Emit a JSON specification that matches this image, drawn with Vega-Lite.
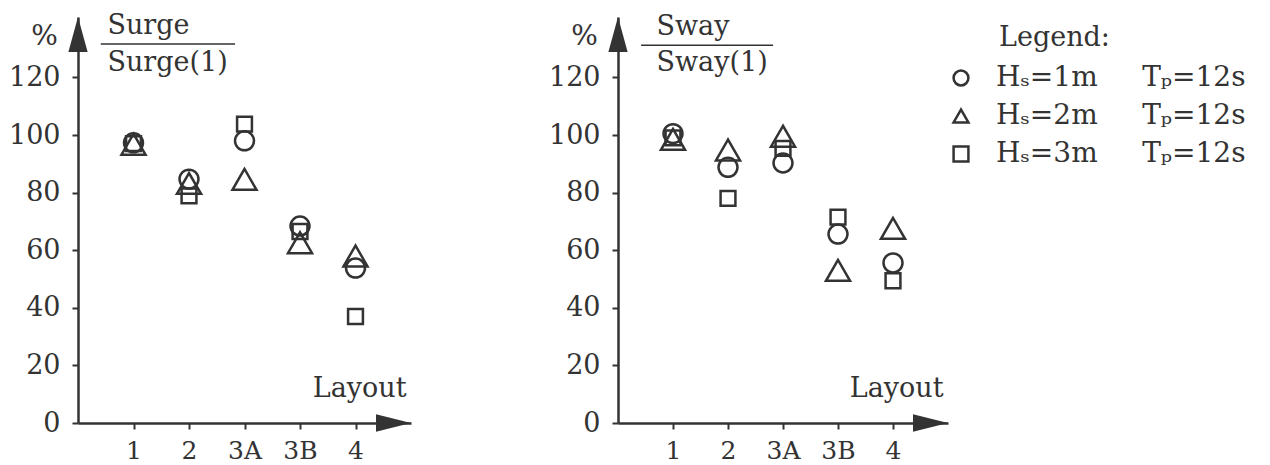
{
  "$schema": "https://vega.github.io/schema/vega-lite/v6.json",
  "padding": {"left": 8, "top": 11, "right": 0, "bottom": 0},
  "spacing": 137,
  "resolve": {"scale": {"shape": "independent"}, "legend": {"shape": "independent"}},
  "config": {
    "view": {"stroke": null},
    "font": "DejaVu Serif",
    "axis": {"domainColor": "#333", "domainWidth": 2.5, "tickColor": "#333", "tickWidth": 2, "tickSize": 6, "labelFont": "DejaVu Serif", "labelFontSize": 24, "labelColor": "#333", "grid": false, "titleFont": "DejaVu Serif", "titleFontWeight": "normal", "titleColor": "#333"},
    "text": {"font": "DejaVu Serif", "fontSize": 27, "color": "#333"}
  },
  "datasets": {
    "pts": [
      {"panel": "Surge", "pos": 1, "series": "H\u209b=1m\u00a0\u00a0\u00a0\u00a0\u00a0T\u209a=12s", "value": 97.3},
      {"panel": "Surge", "pos": 1, "series": "H\u209b=2m\u00a0\u00a0\u00a0\u00a0\u00a0T\u209a=12s", "value": 96.8},
      {"panel": "Surge", "pos": 1, "series": "H\u209b=3m\u00a0\u00a0\u00a0\u00a0\u00a0T\u209a=12s", "value": 97},
      {"panel": "Surge", "pos": 2, "series": "H\u209b=1m\u00a0\u00a0\u00a0\u00a0\u00a0T\u209a=12s", "value": 84.7},
      {"panel": "Surge", "pos": 2, "series": "H\u209b=2m\u00a0\u00a0\u00a0\u00a0\u00a0T\u209a=12s", "value": 83.2},
      {"panel": "Surge", "pos": 2, "series": "H\u209b=3m\u00a0\u00a0\u00a0\u00a0\u00a0T\u209a=12s", "value": 78.9},
      {"panel": "Surge", "pos": 3, "series": "H\u209b=1m\u00a0\u00a0\u00a0\u00a0\u00a0T\u209a=12s", "value": 98},
      {"panel": "Surge", "pos": 3, "series": "H\u209b=2m\u00a0\u00a0\u00a0\u00a0\u00a0T\u209a=12s", "value": 84.6},
      {"panel": "Surge", "pos": 3, "series": "H\u209b=3m\u00a0\u00a0\u00a0\u00a0\u00a0T\u209a=12s", "value": 103.8},
      {"panel": "Surge", "pos": 4, "series": "H\u209b=1m\u00a0\u00a0\u00a0\u00a0\u00a0T\u209a=12s", "value": 68.4},
      {"panel": "Surge", "pos": 4, "series": "H\u209b=2m\u00a0\u00a0\u00a0\u00a0\u00a0T\u209a=12s", "value": 62.6},
      {"panel": "Surge", "pos": 4, "series": "H\u209b=3m\u00a0\u00a0\u00a0\u00a0\u00a0T\u209a=12s", "value": 66.5},
      {"panel": "Surge", "pos": 5, "series": "H\u209b=1m\u00a0\u00a0\u00a0\u00a0\u00a0T\u209a=12s", "value": 53.8},
      {"panel": "Surge", "pos": 5, "series": "H\u209b=2m\u00a0\u00a0\u00a0\u00a0\u00a0T\u209a=12s", "value": 58},
      {"panel": "Surge", "pos": 5, "series": "H\u209b=3m\u00a0\u00a0\u00a0\u00a0\u00a0T\u209a=12s", "value": 37},
      {"panel": "Sway", "pos": 1, "series": "H\u209b=1m\u00a0\u00a0\u00a0\u00a0\u00a0T\u209a=12s", "value": 100.5},
      {"panel": "Sway", "pos": 1, "series": "H\u209b=2m\u00a0\u00a0\u00a0\u00a0\u00a0T\u209a=12s", "value": 98.5},
      {"panel": "Sway", "pos": 1, "series": "H\u209b=3m\u00a0\u00a0\u00a0\u00a0\u00a0T\u209a=12s", "value": 99},
      {"panel": "Sway", "pos": 2, "series": "H\u209b=1m\u00a0\u00a0\u00a0\u00a0\u00a0T\u209a=12s", "value": 88.8},
      {"panel": "Sway", "pos": 2, "series": "H\u209b=2m\u00a0\u00a0\u00a0\u00a0\u00a0T\u209a=12s", "value": 94.8},
      {"panel": "Sway", "pos": 2, "series": "H\u209b=3m\u00a0\u00a0\u00a0\u00a0\u00a0T\u209a=12s", "value": 78},
      {"panel": "Sway", "pos": 3, "series": "H\u209b=1m\u00a0\u00a0\u00a0\u00a0\u00a0T\u209a=12s", "value": 90.3},
      {"panel": "Sway", "pos": 3, "series": "H\u209b=2m\u00a0\u00a0\u00a0\u00a0\u00a0T\u209a=12s", "value": 99.6},
      {"panel": "Sway", "pos": 3, "series": "H\u209b=3m\u00a0\u00a0\u00a0\u00a0\u00a0T\u209a=12s", "value": 95.4},
      {"panel": "Sway", "pos": 4, "series": "H\u209b=1m\u00a0\u00a0\u00a0\u00a0\u00a0T\u209a=12s", "value": 65.6},
      {"panel": "Sway", "pos": 4, "series": "H\u209b=2m\u00a0\u00a0\u00a0\u00a0\u00a0T\u209a=12s", "value": 53},
      {"panel": "Sway", "pos": 4, "series": "H\u209b=3m\u00a0\u00a0\u00a0\u00a0\u00a0T\u209a=12s", "value": 71.5},
      {"panel": "Sway", "pos": 5, "series": "H\u209b=1m\u00a0\u00a0\u00a0\u00a0\u00a0T\u209a=12s", "value": 55.6},
      {"panel": "Sway", "pos": 5, "series": "H\u209b=2m\u00a0\u00a0\u00a0\u00a0\u00a0T\u209a=12s", "value": 67.6},
      {"panel": "Sway", "pos": 5, "series": "H\u209b=3m\u00a0\u00a0\u00a0\u00a0\u00a0T\u209a=12s", "value": 49.4}
    ]
  },
  "hconcat": [
    {
      "width": 333,
      "height": 406,
      "layer": [
        {
          "data": {"name": "pts"},
          "transform": [{"filter": "datum.panel == 'Surge'"}],
          "mark": {"type": "point", "filled": false, "strokeWidth": 2.5, "color": "#333", "opacity": 1},
          "encoding": {
            "x": {"field": "pos", "type": "quantitative", "scale": {"domain": [0, 6], "nice": false}, "axis": {"values": [1, 2, 3, 4, 5], "labelExpr": "datum.value == 3 ? '3A' : datum.value == 4 ? '3B' : datum.value == 5 ? '4' : datum.value == 2 ? '2' : '1'", "labelFont": "DejaVu Serif", "labelFontSize": 25, "labelPadding": 9, "title": "Layout", "titleFont": "DejaVu Serif", "titleFontSize": 27, "titleAlign": "right", "titleAnchor": "start", "titleX": 328, "titleY": -27, "titleBaseline": "alphabetic"}},
            "y": {"field": "value", "type": "quantitative", "scale": {"domain": [0, 141], "nice": false}, "axis": {"values": [0, 20, 40, 60, 80, 100, 120], "labelFont": "DejaVu Serif", "labelFontSize": 27, "labelPadding": 12, "title": "%", "titleFont": "DejaVu Serif", "titleAngle": 0, "titleFontSize": 28, "titleAlign": "center", "titleX": -34, "titleY": 27, "titleBaseline": "alphabetic"}},
            "shape": {"field": "series", "type": "nominal", "scale": {"domain": ["H\u209b=1m\u00a0\u00a0\u00a0\u00a0\u00a0T\u209a=12s", "H\u209b=2m\u00a0\u00a0\u00a0\u00a0\u00a0T\u209a=12s", "H\u209b=3m\u00a0\u00a0\u00a0\u00a0\u00a0T\u209a=12s"], "range": ["circle", "triangle-up", "square"]}, "legend": null},
            "size": {"field": "series", "type": "nominal", "scale": {"type": "ordinal", "domain": ["H\u209b=1m\u00a0\u00a0\u00a0\u00a0\u00a0T\u209a=12s", "H\u209b=2m\u00a0\u00a0\u00a0\u00a0\u00a0T\u209a=12s", "H\u209b=3m\u00a0\u00a0\u00a0\u00a0\u00a0T\u209a=12s"], "range": [360, 580, 220]}, "legend": null}
          }
        },
        {
          "data": {"values": [{}]},
          "mark": {"type": "point", "shape": "M -2 -0.5 L 0 0 L -2 0.5 Z", "size": 1225, "filled": true, "color": "#333", "opacity": 1},
          "encoding": {"x": {"datum": 6, "type": "quantitative"}, "y": {"datum": 0, "type": "quantitative"}}
        },
        {
          "data": {"values": [{}]},
          "mark": {"type": "point", "shape": "M -0.55 2 L 0 0 L 0.55 2 Z", "size": 1225, "filled": true, "color": "#333", "opacity": 1},
          "encoding": {"x": {"datum": 0, "type": "quantitative"}, "y": {"datum": 141, "type": "quantitative"}}
        },
        {
          "data": {"values": [{}]},
          "mark": {"type": "text", "text": "Surge", "align": "left", "baseline": "alphabetic"},
          "encoding": {"x": {"datum": 0.53, "type": "quantitative"}, "y": {"datum": 135.1, "type": "quantitative"}}
        },
        {
          "data": {"values": [{}]},
          "mark": {"type": "text", "text": "Surge(1)", "align": "left", "baseline": "alphabetic"},
          "encoding": {"x": {"datum": 0.53, "type": "quantitative"}, "y": {"datum": 122.2, "type": "quantitative"}}
        },
        {
          "data": {"values": [{}]},
          "mark": {"type": "rule", "color": "#333", "strokeWidth": 1.5},
          "encoding": {"x": {"datum": 0.41, "type": "quantitative"}, "x2": {"datum": 2.83}, "y": {"datum": 131.6, "type": "quantitative"}}
        }
      ]
    },
    {
      "width": 330,
      "height": 406,
      "layer": [
        {
          "data": {"name": "pts"},
          "transform": [{"filter": "datum.panel == 'Sway'"}, {"filter": "indexof(datum.series, '1m') >= 0"}],
          "mark": {"type": "point", "filled": false, "strokeWidth": 2.5, "color": "#333", "opacity": 1, "size": 360},
          "encoding": {
            "x": {"field": "pos", "type": "quantitative", "scale": {"domain": [0, 6], "nice": false}, "axis": {"values": [1, 2, 3, 4, 5], "labelExpr": "datum.value == 3 ? '3A' : datum.value == 4 ? '3B' : datum.value == 5 ? '4' : datum.value == 2 ? '2' : '1'", "labelFont": "DejaVu Serif", "labelFontSize": 25, "labelPadding": 9, "title": "Layout", "titleFont": "DejaVu Serif", "titleFontSize": 27, "titleAlign": "right", "titleAnchor": "start", "titleX": 325, "titleY": -27, "titleBaseline": "alphabetic"}},
            "y": {"field": "value", "type": "quantitative", "scale": {"domain": [0, 141], "nice": false}, "axis": {"values": [0, 20, 40, 60, 80, 100, 120], "labelFont": "DejaVu Serif", "labelFontSize": 27, "labelPadding": 12, "title": "%", "titleFont": "DejaVu Serif", "titleAngle": 0, "titleFontSize": 28, "titleAlign": "center", "titleX": -34, "titleY": 27, "titleBaseline": "alphabetic"}},
            "shape": {"field": "series", "type": "nominal", "scale": {"domain": ["H\u209b=1m\u00a0\u00a0\u00a0\u00a0\u00a0T\u209a=12s", "H\u209b=2m\u00a0\u00a0\u00a0\u00a0\u00a0T\u209a=12s", "H\u209b=3m\u00a0\u00a0\u00a0\u00a0\u00a0T\u209a=12s"], "range": ["circle", "triangle-up", "square"]}, "legend": {"title": "Legend:", "orient": "none", "legendX": 381, "legendY": 8, "symbolSize": 220, "symbolStrokeWidth": 2.5, "symbolStrokeColor": "#333", "symbolOffset": -52, "labelOffset": 21, "labelFont": "DejaVu Serif", "labelFontSize": 28, "labelColor": "#333", "labelLimit": 400, "titleFont": "DejaVu Serif", "titleFontSize": 27, "titleFontWeight": "normal", "titleColor": "#333", "titlePadding": 12, "rowPadding": 10}}
          }
        },
        {
          "data": {"name": "pts"},
          "transform": [{"filter": "datum.panel == 'Sway'"}, {"filter": "indexof(datum.series, '2m') >= 0"}],
          "mark": {"type": "point", "filled": false, "strokeWidth": 2.5, "color": "#333", "opacity": 1, "size": 580},
          "encoding": {
            "x": {"field": "pos", "type": "quantitative"},
            "y": {"field": "value", "type": "quantitative"},
            "shape": {"field": "series", "type": "nominal"}
          }
        },
        {
          "data": {"name": "pts"},
          "transform": [{"filter": "datum.panel == 'Sway'"}, {"filter": "indexof(datum.series, '3m') >= 0"}],
          "mark": {"type": "point", "filled": false, "strokeWidth": 2.5, "color": "#333", "opacity": 1, "size": 220},
          "encoding": {
            "x": {"field": "pos", "type": "quantitative"},
            "y": {"field": "value", "type": "quantitative"},
            "shape": {"field": "series", "type": "nominal"}
          }
        },
        {
          "data": {"values": [{}]},
          "mark": {"type": "point", "shape": "M -2 -0.5 L 0 0 L -2 0.5 Z", "size": 1225, "filled": true, "color": "#333", "opacity": 1},
          "encoding": {"x": {"datum": 6, "type": "quantitative"}, "y": {"datum": 0, "type": "quantitative"}}
        },
        {
          "data": {"values": [{}]},
          "mark": {"type": "point", "shape": "M -0.55 2 L 0 0 L 0.55 2 Z", "size": 1225, "filled": true, "color": "#333", "opacity": 1},
          "encoding": {"x": {"datum": 0, "type": "quantitative"}, "y": {"datum": 141, "type": "quantitative"}}
        },
        {
          "data": {"values": [{}]},
          "mark": {"type": "text", "text": "Sway", "align": "left", "baseline": "alphabetic"},
          "encoding": {"x": {"datum": 0.7, "type": "quantitative"}, "y": {"datum": 134.9, "type": "quantitative"}}
        },
        {
          "data": {"values": [{}]},
          "mark": {"type": "text", "text": "Sway(1)", "align": "left", "baseline": "alphabetic"},
          "encoding": {"x": {"datum": 0.7, "type": "quantitative"}, "y": {"datum": 122.1, "type": "quantitative"}}
        },
        {
          "data": {"values": [{}]},
          "mark": {"type": "rule", "color": "#333", "strokeWidth": 1.5},
          "encoding": {"x": {"datum": 0.42, "type": "quantitative"}, "x2": {"datum": 2.82}, "y": {"datum": 131.2, "type": "quantitative"}}
        }
      ]
    }
  ]
}
